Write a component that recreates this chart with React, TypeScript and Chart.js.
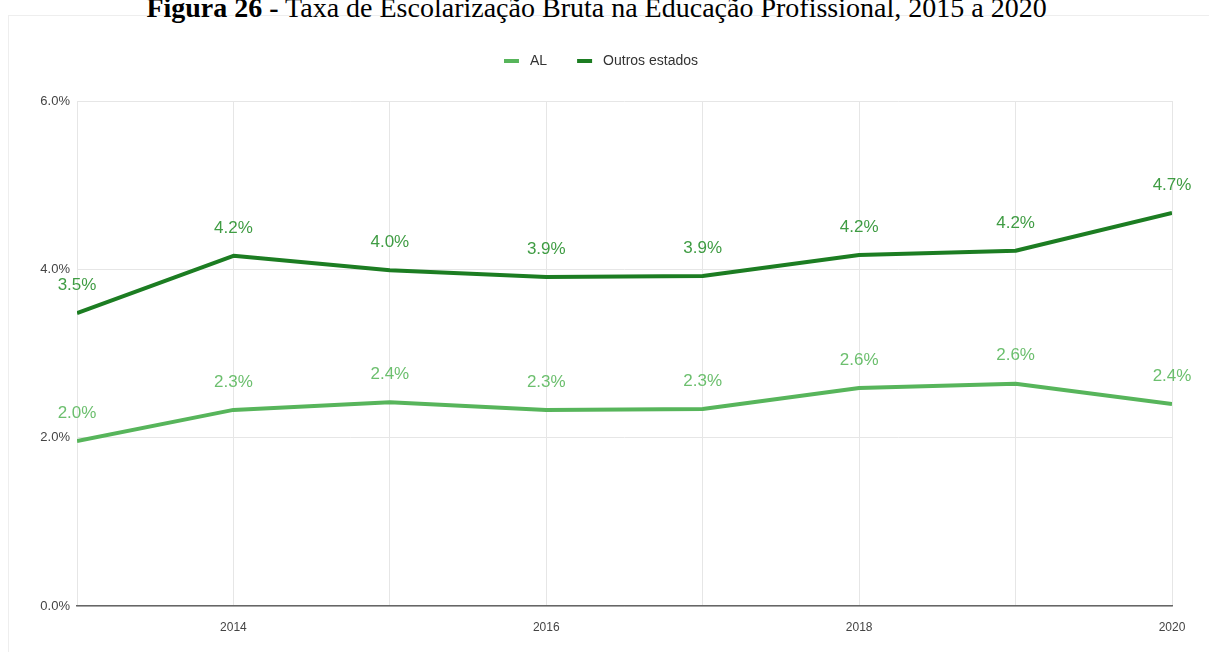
import React, { useEffect, useRef } from "react";
import { Chart, registerables } from "chart.js";

Chart.register(...registerables);

const years = [2013, 2014, 2015, 2016, 2017, 2018, 2019, 2020];
const alValues = [1.96, 2.33, 2.42, 2.33, 2.34, 2.59, 2.64, 2.4];
const outrosValues = [3.48, 4.16, 3.99, 3.91, 3.92, 4.17, 4.22, 4.67];
const seriesNames = ["AL", "Outros estados"];
const yTicks = [0, 2, 4, 6];
const titleBold = "Figura 26 -";
const titleRest = " Taxa de Escolarização Bruta na Educação Profissional, 2015 a 2020";

const AL_LINE = "#57b55b";
const AL_LABEL = "#6cbf6e";
const OUT_LINE = "#1c7d22";
const OUT_LABEL = "#3f9c43";
const FONT = "'Liberation Sans', Arial, sans-serif";

const dataLabelPlugin = {
  id: "dataLabels",
  afterDatasetsDraw(chart: any) {
    const ctx = chart.ctx;
    ctx.save();
    ctx.font = `17px ${FONT}`;
    ctx.textAlign = "center";
    ctx.textBaseline = "middle";
    chart.data.datasets.forEach((ds: any, di: number) => {
      const meta = chart.getDatasetMeta(di);
      ctx.fillStyle = ds.labelColor;
      meta.data.forEach((el: any, i: number) => {
        const v = ds.data[i].y;
        ctx.fillText(v.toFixed(1) + "%", el.x, el.y - 28);
      });
    });
    ctx.restore();
  },
};

const legendPlugin = {
  id: "customLegend",
  afterDraw(chart: any) {
    const ctx = chart.ctx;
    ctx.save();
    ctx.font = `14px ${FONT}`;
    ctx.textBaseline = "middle";
    const sw = 15;
    const gapText = 11;
    const gapItem = 30;
    const items = chart.data.datasets.map((ds: any) => ({
      text: ds.label,
      color: ds.borderColor,
      w: ctx.measureText(ds.label).width,
    }));
    const total =
      items.reduce((s: number, it: any) => s + sw + gapText + it.w, 0) +
      gapItem * (items.length - 1);
    let x = 601 - total / 2;
    const y = 61;
    items.forEach((it: any) => {
      ctx.strokeStyle = it.color;
      ctx.lineWidth = 4;
      ctx.beginPath();
      ctx.moveTo(x, y);
      ctx.lineTo(x + sw, y);
      ctx.stroke();
      x += sw + gapText;
      ctx.fillStyle = "#333";
      ctx.fillText(it.text, x, y);
      x += it.w + gapItem;
    });
    ctx.restore();
  },
};

export default function App() {
  const ref = useRef<HTMLCanvasElement | null>(null);

  useEffect(() => {
    if (!ref.current) return;
    const chart = new Chart(ref.current, {
      type: "line",
      data: {
        datasets: [
          {
            label: seriesNames[0],
            data: years.map((x, i) => ({ x, y: alValues[i] })),
            borderColor: AL_LINE,
            backgroundColor: AL_LINE,
            borderWidth: 4,
            pointRadius: 0,
            tension: 0,
            borderJoinStyle: "round",
            labelColor: AL_LABEL,
          } as any,
          {
            label: seriesNames[1],
            data: years.map((x, i) => ({ x, y: outrosValues[i] })),
            borderColor: OUT_LINE,
            backgroundColor: OUT_LINE,
            borderWidth: 4,
            pointRadius: 0,
            tension: 0,
            borderJoinStyle: "round",
            labelColor: OUT_LABEL,
          } as any,
        ],
      },
      options: {
        animation: false,
        responsive: false,
        layout: { padding: { left: 0, right: 37, top: 101, bottom: 0 } },
        plugins: {
          legend: { display: false },
          title: { display: false },
          tooltip: { enabled: false },
        },
        scales: {
          x: {
            type: "linear",
            min: years[0],
            max: years[years.length - 1],
            afterFit: (s: any) => {
              s.height = 46;
            },
            afterBuildTicks: (s: any) => {
              s.ticks = years.map((v) => ({ value: v }));
            },
            ticks: {
              callback: (v: any) => (Number(v) % 2 === 0 ? String(v) : ""),
              color: "#444",
              font: { family: FONT, size: 12 },
              padding: 14,
              maxRotation: 0,
              autoSkip: false,
            },
            grid: { color: "#e6e6e6", lineWidth: 1, drawTicks: false },
            border: { display: true, color: "#666", width: 1.5 },
          },
          y: {
            min: 0,
            max: 6,
            afterFit: (s: any) => {
              s.width = 77;
            },
            afterBuildTicks: (s: any) => {
              s.ticks = yTicks.map((v) => ({ value: v }));
            },
            ticks: {
              callback: (v: any) => Number(v).toFixed(1) + "%",
              color: "#444",
              font: { family: FONT, size: 13 },
              padding: 7,
            },
            grid: { color: "#e6e6e6", lineWidth: 1, drawTicks: false },
            border: { display: false },
          },
        },
      },
      plugins: [dataLabelPlugin, legendPlugin],
    });
    return () => chart.destroy();
  }, []);

  return (
    <div
      style={{
        position: "fixed",
        left: 0,
        top: 0,
        width: 1209,
        height: 652,
        overflow: "hidden",
        background: "#fff",
      }}
    >
      <div
        style={{
          position: "absolute",
          left: 8,
          top: 15,
          width: 1300,
          height: 700,
          border: "1px solid #eeeeee",
          boxSizing: "border-box",
        }}
      />
      <div
        style={{
          position: "absolute",
          left: -8,
          top: -6,
          width: 1209,
          textAlign: "center",
          fontFamily: "'Liberation Serif', 'Times New Roman', serif",
          fontSize: 28,
          lineHeight: "28px",
          color: "#000",
          whiteSpace: "nowrap",
        }}
      >
        <span style={{ fontWeight: "bold" }}>{titleBold}</span>
        <span>{titleRest}</span>
      </div>
      <canvas
        ref={ref}
        width={1209}
        height={652}
        style={{ position: "absolute", left: 0, top: 0, width: 1209, height: 652 }}
      />
    </div>
  );
}
